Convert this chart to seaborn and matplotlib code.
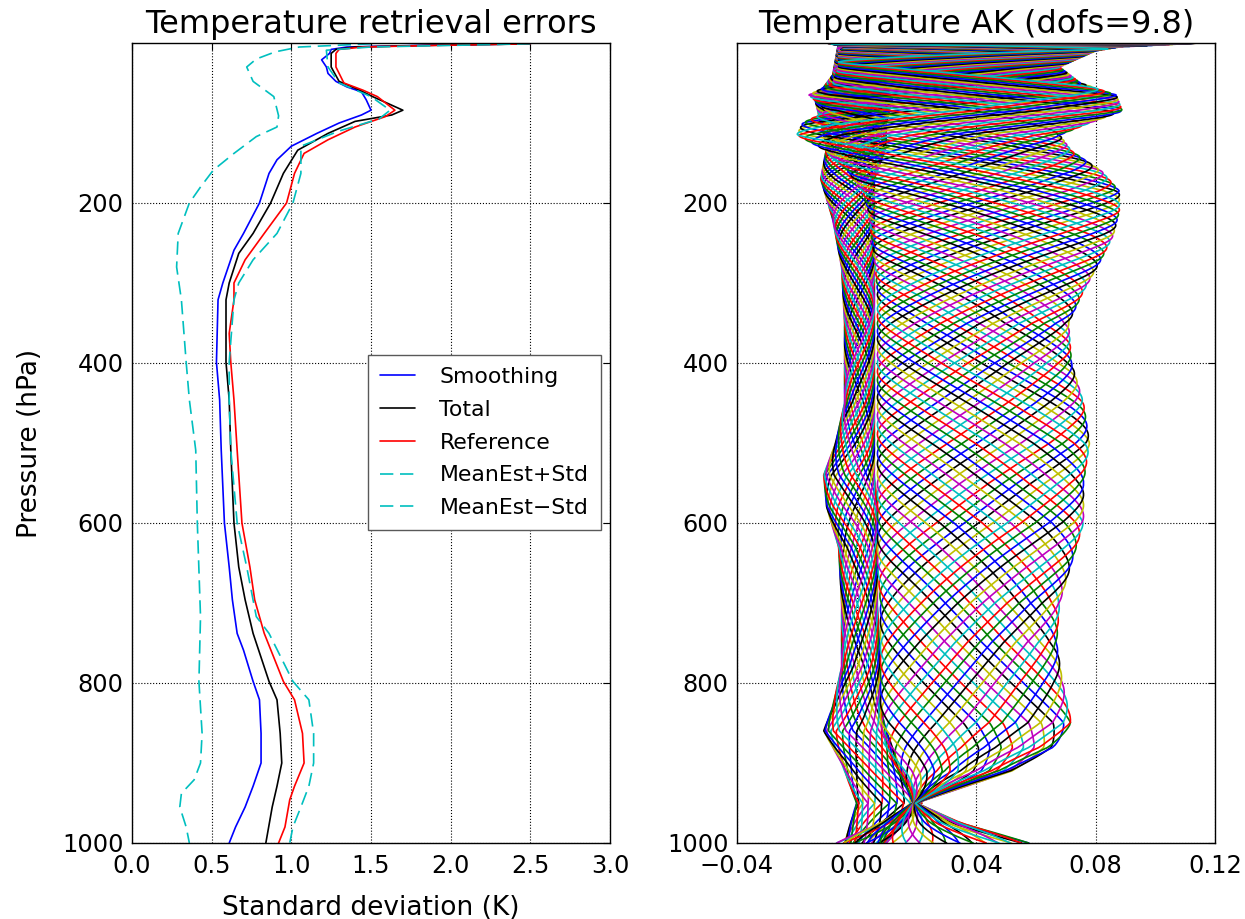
import numpy as np
import pandas as pd
import matplotlib
matplotlib.use("Agg")
import matplotlib.pyplot as plt
import seaborn as sns

# --- left panel: error profiles (K) against pressure (hPa) ---
smooth_p = [1, 3, 5, 8, 13, 21, 30, 38, 48, 55, 61, 71, 84, 90, 100, 113, 129, 146, 163, 200,
            238, 259, 300, 321, 399, 446, 509, 600, 655, 696, 738, 759, 798, 821, 863, 900,
            929, 955, 980, 1000]
smooth_x = [2.5, 1.8, 1.35, 1.25, 1.24, 1.19, 1.22, 1.23, 1.28, 1.35, 1.44, 1.47, 1.50, 1.44,
            1.30, 1.16, 1.00, 0.91, 0.86, 0.80, 0.70, 0.64, 0.57, 0.54, 0.53, 0.55, 0.56, 0.58,
            0.61, 0.63, 0.66, 0.70, 0.76, 0.80, 0.81, 0.81, 0.76, 0.71, 0.65, 0.61]

total_p = [1, 3, 5, 8, 13, 30, 48, 59, 67, 84, 90, 98, 113, 134, 163, 200, 238, 263, 300, 321,
           399, 446, 509, 600, 655, 696, 738, 798, 821, 863, 900, 929, 955, 1000]
total_x = [2.5, 1.85, 1.4, 1.28, 1.25, 1.25, 1.30, 1.43, 1.51, 1.70, 1.63, 1.40, 1.23, 1.04,
           0.95, 0.87, 0.76, 0.67, 0.61, 0.59, 0.59, 0.61, 0.62, 0.64, 0.67, 0.71, 0.76, 0.86,
           0.91, 0.93, 0.94, 0.91, 0.88, 0.84]

ref_p = [1, 3, 5, 8, 13, 30, 50, 59, 67, 84, 92, 105, 121, 138, 163, 200, 238, 271, 300, 321,
         363, 399, 446, 509, 600, 655, 696, 738, 798, 821, 863, 900, 929, 946, 980, 1000]
ref_x = [2.5, 1.9, 1.45, 1.3, 1.28, 1.28, 1.33, 1.45, 1.54, 1.65, 1.59, 1.40, 1.23, 1.08, 1.02,
         0.97, 0.83, 0.71, 0.64, 0.64, 0.61, 0.62, 0.64, 0.66, 0.69, 0.74, 0.77, 0.83, 0.95,
         1.02, 1.07, 1.08, 1.02, 0.99, 0.96, 0.92]

plus_p = [1, 5, 9, 30, 50, 67, 84, 95, 110, 129, 163, 200, 238, 271, 300, 321, 399, 446, 509,
          600, 655, 717, 738, 798, 821, 863, 900, 929, 955, 980, 1000]
plus_x = [2.5, 1.5, 1.22, 1.23, 1.30, 1.50, 1.62, 1.55, 1.30, 1.06, 1.06, 1.01, 0.91, 0.76,
          0.67, 0.64, 0.61, 0.61, 0.62, 0.66, 0.72, 0.78, 0.86, 1.01, 1.11, 1.14, 1.14, 1.11,
          1.06, 1.01, 0.99]

minus_p = [1, 5, 11, 20, 30, 48, 67, 91, 105, 117, 138, 159, 180, 200, 238, 280, 321, 399, 446,
           509, 600, 717, 798, 863, 900, 921, 938, 955, 980, 1000]
minus_x = [1.5, 1.05, 0.90, 0.78, 0.72, 0.76, 0.89, 0.92, 0.91, 0.78, 0.64, 0.51, 0.43, 0.36,
           0.29, 0.28, 0.31, 0.34, 0.36, 0.40, 0.41, 0.43, 0.42, 0.44, 0.43, 0.39, 0.31, 0.30,
           0.34, 0.36]

# --- right panel: averaging kernels, described by envelopes ---
lat_p     = [0, 5, 10, 30, 50, 65, 85, 100, 115, 135, 160, 185, 210, 240, 270, 310, 350, 400,
             450, 500, 550, 600, 650, 700, 750, 800, 850, 880, 910, 950, 975, 1000]
lat_left  = [-0.010, -0.004, -0.006, -0.006, -0.008, -0.016, -0.010, -0.018, -0.020, -0.010,
             -0.003, 0.002, 0.004, 0.005, 0.006, 0.007, 0.007, 0.007, 0.007, 0.007, 0.007,
             0.007, 0.007, 0.008, 0.008, 0.008, 0.008, 0.010, 0.014, 0.019, 0.008, -0.007]
lat_right = [0.115, 0.088, 0.080, 0.068, 0.075, 0.087, 0.089, 0.078, 0.068, 0.072, 0.082,
             0.088, 0.088, 0.086, 0.082, 0.076, 0.071, 0.072, 0.076, 0.078, 0.076, 0.076,
             0.072, 0.068, 0.067, 0.069, 0.072, 0.066, 0.052, 0.020, 0.035, 0.058]

bun_p     = [0, 40, 70, 100, 130, 170, 220, 280, 350, 450, 500, 540, 580, 630, 700, 780, 830,
             860, 900, 950, 1000]
bun_left  = [-0.006, -0.008, -0.014, -0.012, -0.010, -0.012, -0.008, -0.005, -0.004, -0.004,
             -0.007, -0.011, -0.010, -0.006, -0.005, -0.005, -0.008, -0.011, -0.005, 0.000,
             -0.004]
bun_right = [0.006, 0.008, 0.012, 0.010, 0.010, 0.006, 0.006, 0.006, 0.006, 0.006, 0.006,
             0.006, 0.007, 0.007, 0.007, 0.008, 0.008, 0.010, 0.014, 0.022, 0.010]

n_lattice = 34
n_bundle = 26
half_period = 0.695   # in p**(2/7) units, from one kernel crossing the lattice
dofs = 9.8

cycle = ["b", "g", "r", "c", "m", "y", "k"]

# --- build kernel table ---
s_grid = np.linspace(0, 1000 ** (2 / 7), 900)
p_grid = s_grid ** 3.5
omega = np.pi / half_period

rows = []
def add_kernels(n, ps, lo, hi, w, offset, sharp):
    lo_i = np.interp(p_grid, ps, lo)
    hi_i = np.interp(p_grid, ps, hi)
    mid, amp = (hi_i + lo_i) / 2, (hi_i - lo_i) / 2
    for i in range(n):
        ph = 2 * np.pi * i / n + offset
        wave = np.arcsin(sharp * np.sin(w * s_grid + ph)) / np.arcsin(sharp)
        rows.append(pd.DataFrame({"ak": mid + amp * wave, "p": p_grid,
                                  "kernel": f"k{len(rows):03d}"}))

add_kernels(n_bundle, bun_p, bun_left, bun_right, omega * 1.4, 0.3, 0.5)
add_kernels(n_lattice, lat_p, lat_left, lat_right, omega, 0.0, 0.96)
ak = pd.concat(rows, ignore_index=True)
names = sorted(ak["kernel"].unique())
palette = {k: cycle[i % len(cycle)] for i, k in enumerate(names)}

# --- style ---
sns.set_style("white")
plt.rcParams.update({
    "font.family": ["DejaVu Sans"],
    "text.color": "black", "axes.labelcolor": "black",
    "xtick.direction": "in", "ytick.direction": "in",
    "xtick.top": True, "ytick.right": True,
    "xtick.major.size": 5, "ytick.major.size": 5,
    "xtick.major.pad": 8, "ytick.major.pad": 6,
    "axes.edgecolor": "black", "axes.linewidth": 1.0,
    "xtick.color": "black", "ytick.color": "black",
})

fig = plt.figure(figsize=(12.45, 9.19), dpi=100)
ax1 = fig.add_axes([132 / 1245, 1 - 843 / 919, 478 / 1245, 800 / 919])
ax2 = fig.add_axes([737 / 1245, 1 - 843 / 919, 478 / 1245, 800 / 919])

series = [
    (smooth_x, smooth_p, "b", "Smoothing", None),
    (total_x, total_p, "k", "Total", None),
    (ref_x, ref_p, "r", "Reference", None),
    (plus_x, plus_p, "c", "MeanEst+Std", (8, 4)),
    (minus_x, minus_p, "c", "MeanEst\u2212Std", (8, 4)),
]
for xs, ps, col, lab, dash in series:
    sns.lineplot(x=xs, y=ps, sort=False, estimator=None, color=col, lw=1.2,
                 label=lab, ax=ax1)
    if dash:
        ax1.lines[-1].set_dashes(dash)

ax1.set_xlim(0, 3)
ax1.set_ylim(1000, 0)
ax1.set_xticks(np.arange(0, 3.01, 0.5))
ax1.set_yticks([200, 400, 600, 800, 1000])
ax1.grid(True, linestyle=":", color="k", linewidth=0.8)
ax1.set_title("Temperature retrieval errors", fontsize=23, pad=7)
ax1.set_xlabel("Standard deviation (K)", fontsize=19, labelpad=12)
ax1.set_ylabel("Pressure (hPa)", fontsize=19, labelpad=14)
ax1.tick_params(labelsize=17.4)
ax1.legend(loc="upper left", bbox_to_anchor=(0.494, 0.61), borderaxespad=0,
           fontsize=15.8, handlelength=1.6, handletextpad=1.1, labelspacing=0.58,
           borderpad=0.55, frameon=True, fancybox=False, edgecolor="0.35", framealpha=1)

sns.lineplot(data=ak, x="ak", y="p", hue="kernel", palette=palette, sort=False,
             estimator=None, legend=False, lw=1.2, ax=ax2)
ax2.set_xlim(-0.04, 0.12)
ax2.set_ylim(1000, 0)
ax2.set_xticks([-0.04, 0.0, 0.04, 0.08, 0.12])
ax2.set_yticks([200, 400, 600, 800, 1000])
ax2.grid(True, linestyle=":", color="k", linewidth=0.8)
ax2.set_title(f"Temperature AK (dofs={dofs})", fontsize=23, pad=7)
ax2.set_xlabel("")
ax2.set_ylabel("")
ax2.tick_params(labelsize=17.4)

fig.savefig("out.png", dpi=100)
